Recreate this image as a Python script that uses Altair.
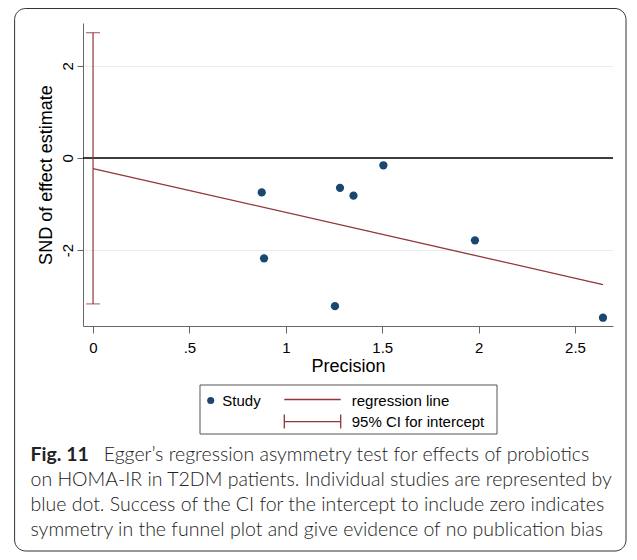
import altair as alt
import pandas as pd

# ---- data ----
precision = [0.875, 0.887, 1.255, 1.281, 1.351, 1.506, 1.981, 2.645]
snd = [-0.75, -2.18, -3.22, -0.65, -0.82, -0.16, -1.79, -3.47]
reg_x = [0.0, 2.645]
reg_y = [-0.23, -2.75]
ci_x = [0.0]
ci_low = [-3.17]
ci_high = [2.72]
x_ticks = [0, 0.5, 1, 1.5, 2, 2.5]
y_ticks = [-2, 0, 2]
legend_labels = ["Study", "regression line", "95% CI for intercept"]
caption_bold = "Fig. 11"
caption_lines = [
    "Egger\u2019s regression asymmetry test for effects of probiotics",
    "on HOMA-IR in T2DM patients. Individual studies are represented by",
    "blue dot. Success of the CI for the intercept to include zero indicates",
    "symmetry in the funnel plot and give evidence of no publication bias",
]

NAVY = "#1a476f"
MAROON = "#90353b"
AX = "#666666"
AXFONT = "Liberation Sans"
CAPFONT = "Lato"

W, H = 530, 303
xs = alt.Scale(domain=[-0.052, 2.697], nice=False, zero=False)
ys = alt.Scale(domain=[-3.65, 2.93], nice=False, zero=False)

x_axis = alt.Axis(
    values=x_ticks, format="~g",
    labelExpr="datum.value == 0.5 ? '.5' : datum.label",
    grid=False, domainColor=AX, tickColor=AX, tickSize=7, domainWidth=1, tickWidth=1,
    labelPadding=7.5, labelFont=AXFONT, labelFontSize=15, labelColor="#000",
    title="Precision", titleFont=AXFONT, titleFontSize=18, titleFontWeight="normal",
    titleColor="#000", titleX=265, titleY=40, titleBaseline="middle", titleAlign="center",
)
y_axis = alt.Axis(
    values=y_ticks, labelExpr="'' + datum.value",
    grid=True, gridColor="#e6eef0", gridWidth=1,
    domainColor=AX, tickColor=AX, tickSize=6, domainWidth=1, tickWidth=1,
    labelAngle=270, labelAlign="center", labelBaseline="bottom", labelPadding=2,
    labelFont=AXFONT, labelFontSize=15, labelColor="#000",
    title="SND of effect estimate", titleFont=AXFONT, titleFontSize=18,
    titleFontWeight="normal", titleColor="#000", titleAngle=270,
    titleX=-37, titleY=151.5, titleAlign="center", titleBaseline="middle",
)

pts_df = pd.DataFrame({"precision": precision, "snd": snd})
reg_df = pd.DataFrame({"precision": reg_x, "snd": reg_y})
ci_df = pd.DataFrame({"precision": ci_x, "lo": ci_low, "hi": ci_high})
zero_df = pd.DataFrame({"snd": [0]})
one = pd.DataFrame({"k": [0]})

X = alt.X("precision:Q", scale=xs, axis=x_axis)
Y = alt.Y("snd:Q", scale=ys, axis=y_axis)

zero_line = alt.Chart(zero_df).mark_rule(color="#000", strokeWidth=1.5).encode(y=Y)
points = alt.Chart(pts_df).mark_circle(size=68, color=NAVY, opacity=1).encode(x=X, y=Y)
reg_line = alt.Chart(reg_df).mark_line(color=MAROON, strokeWidth=1.3).encode(x=X, y=Y)
ci_rule = alt.Chart(ci_df).mark_rule(color=MAROON, strokeWidth=1.2).encode(
    x=X, y=alt.Y("lo:Q", scale=ys, axis=y_axis), y2="hi:Q")
ci_cap_lo = alt.Chart(ci_df).mark_tick(orient="horizontal", size=14, thickness=1.2, color=MAROON).encode(
    x=X, y=alt.Y("lo:Q", scale=ys, axis=y_axis))
ci_cap_hi = alt.Chart(ci_df).mark_tick(orient="horizontal", size=14, thickness=1.2, color=MAROON).encode(
    x=X, y=alt.Y("hi:Q", scale=ys, axis=y_axis))

# ---- legend (decoration, pixel positions relative to plot origin) ----
leg_box = alt.Chart(one).mark_rect(fillOpacity=0, stroke="#555", strokeWidth=1).encode(
    x=alt.value(117), x2=alt.value(414), y=alt.value(362), y2=alt.value(411))
leg_dot = alt.Chart(one).mark_circle(size=50, color=NAVY, opacity=1).encode(
    x=alt.value(127.7), y=alt.value(377.5))
leg_t1 = alt.Chart(one).mark_text(text=legend_labels[0], align="left", baseline="middle",
                                  font=AXFONT, fontSize=15, color="#000").encode(
    x=alt.value(139.3), y=alt.value(378))
leg_line = alt.Chart(one).mark_rule(color=MAROON, strokeWidth=1.3).encode(
    x=alt.value(201.3), x2=alt.value(257.7), y=alt.value(376.5))
leg_t2 = alt.Chart(one).mark_text(text=legend_labels[1], align="left", baseline="middle",
                                  font=AXFONT, fontSize=15, color="#000").encode(
    x=alt.value(268.7), y=alt.value(378))
leg_ci = alt.Chart(one).mark_rule(color=MAROON, strokeWidth=1.3).encode(
    x=alt.value(201.3), x2=alt.value(257.7), y=alt.value(398.7))
leg_ci_c1 = alt.Chart(one).mark_rule(color=MAROON, strokeWidth=1.3).encode(
    x=alt.value(201.3), y=alt.value(391.5), y2=alt.value(405.5))
leg_ci_c2 = alt.Chart(one).mark_rule(color=MAROON, strokeWidth=1.3).encode(
    x=alt.value(257.7), y=alt.value(391.5), y2=alt.value(405.5))
leg_t3 = alt.Chart(one).mark_text(text=legend_labels[2], align="left", baseline="middle",
                                  font=AXFONT, fontSize=15, color="#000").encode(
    x=alt.value(268.7), y=alt.value(399))

# ---- caption ----
cap_y = [432, 457, 482, 507]
cap_layers = [
    alt.Chart(one).mark_text(text=caption_bold, align="left", baseline="middle",
                             font=CAPFONT, fontSize=19.5, fontWeight="bold", color="#222").encode(
        x=alt.value(-52.5), y=alt.value(cap_y[0]))
]
cap_x = [20.7, -52.5, -52.5, -52.5]
for i, line in enumerate(caption_lines):
    cap_layers.append(
        alt.Chart(one).mark_text(text=line, align="left", baseline="middle",
                                 font=CAPFONT, fontSize=19.5, fontWeight=300, color="#222").encode(
            x=alt.value(cap_x[i]), y=alt.value(cap_y[i])))

# ---- outer rounded frame ----
frame = alt.Chart(one).mark_rect(fillOpacity=0, stroke="#333", strokeWidth=1, cornerRadius=11).encode(
    x=alt.value(-68.4), x2=alt.value(543), y=alt.value(-14.5), y2=alt.value(528))

chart = alt.layer(
    zero_line, reg_line, ci_rule, ci_cap_lo, ci_cap_hi, points,
    leg_box, leg_dot, leg_t1, leg_line, leg_t2, leg_ci, leg_ci_c1, leg_ci_c2, leg_t3,
    *cap_layers, frame,
).properties(
    width=W, height=H,
    autosize=alt.AutoSizeParams(type="none"),
    padding={"left": 75, "top": 15, "right": 16, "bottom": 226},
    background="white",
).configure_view(stroke="transparent")

chart.save("out.html", embed_options={"renderer": "svg", "actions": False})
